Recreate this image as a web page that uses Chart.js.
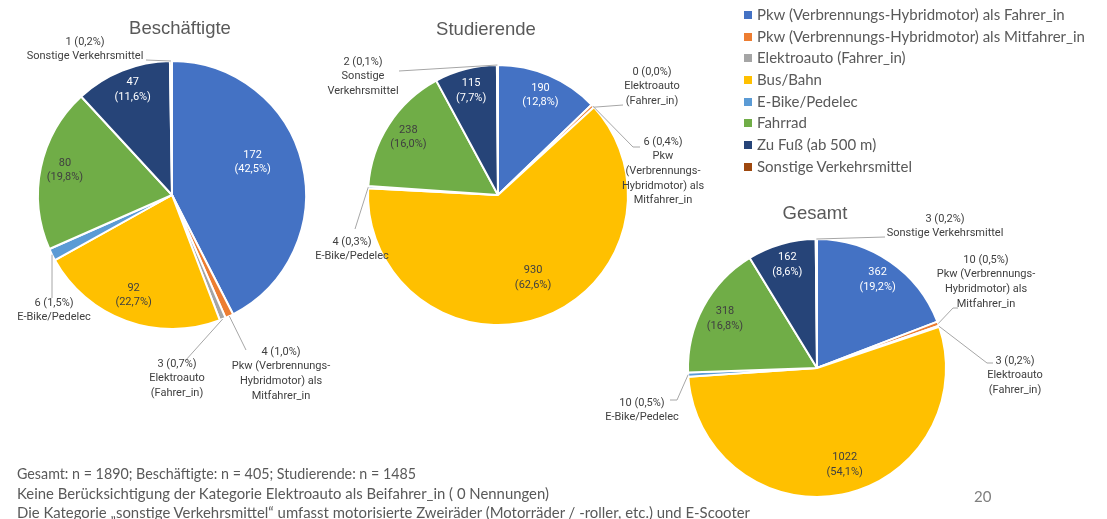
<!DOCTYPE html>
<html lang="de">
<head>
<meta charset="utf-8">
<script src="https://cdn.jsdelivr.net/npm/chart.js@4/dist/chart.umd.min.js"></script>
<style>
  body { margin: 0; background: #fff; width: 1107px; height: 519px; overflow: hidden; position: relative; }
  canvas { position: absolute; left: 0; top: 0; }
  .title { position: absolute; font: 18.5px "Liberation Sans", Arial, sans-serif; color: #595959; transform: translate(-50%, -50%); white-space: nowrap; }
  #legend { position: absolute; left: 744px; top: 4px; font: 15px Lato, sans-serif; color: #595959; }
  #legend div { height: 21.7px; line-height: 21.7px; white-space: nowrap; }
  #legend span { display: inline-block; width: 8px; height: 8px; margin-right: 5px; vertical-align: 1px; }
  .note { position: absolute; left: 17px; font: 15px Lato, sans-serif; color: #595959; white-space: nowrap; transform-origin: 0 50%; }
  #page { position: absolute; left: 974px; top: 487px; font: 15px Lato, sans-serif; color: #7f7f7f; }
</style>
</head>
<body>
<canvas id="pie-besch" width="1107" height="519"></canvas>
<canvas id="pie-stud" width="1107" height="519"></canvas>
<canvas id="pie-ges" width="1107" height="519"></canvas>
<div class="title" style="left:180px;top:28px">Beschäftigte</div>
<div class="title" style="left:486px;top:29px">Studierende</div>
<div class="title" style="left:815px;top:213px">Gesamt</div>
<div id="legend"></div>
<div class="note" style="top:464px" data-w="399">Gesamt: n = 1890; Beschäftigte: n = 405; Studierende: n = 1485</div>
<div class="note" style="top:484px" data-w="532">Keine Berücksichtigung der Kategorie Elektroauto als Beifahrer_in ( 0 Nennungen)</div>
<div class="note" style="top:503px" data-w="733">Die Kategorie „sonstige Verkehrsmittel“ umfasst motorisierte Zweiräder (Motorräder / -roller, etc.) und E-Scooter</div>
<div id="page">20</div>
<script>
const categories = [
  "Pkw (Verbrennungs-Hybridmotor) als Fahrer_in",
  "Pkw (Verbrennungs-Hybridmotor) als Mitfahrer_in",
  "Elektroauto (Fahrer_in)",
  "Bus/Bahn",
  "E-Bike/Pedelec",
  "Fahrrad",
  "Zu Fuß (ab 500 m)",
  "Sonstige Verkehrsmittel",
];
const colors = ["#4472C4", "#ED7D31", "#A5A5A5", "#FFC000", "#5B9BD5", "#70AD47", "#264478", "#9E480E"];

const beschaeftigte = [172, 4, 3, 92, 6, 80, 47, 1];
const studierende = [190, 6, 0, 930, 4, 238, 115, 2];
const gesamt = [362, 10, 3, 1022, 10, 318, 162, 3];

// inside label colour per category
const insideColors = ["#ffffff", "#404040", "#404040", "#404040", "#404040", "#404040", "#ffffff", "#404040"];

// legend
const legendDiv = document.getElementById("legend");
legendDiv.innerHTML = categories
  .map((c, i) => `<div><span style="background:${colors[i]}"></span>${c}</div>`)
  .join("");

// footnotes squeezed to the condensed width of the original
document.querySelectorAll(".note").forEach((el) => {
  const w = el.getBoundingClientRect().width;
  el.style.transform = `scaleX(${Number(el.dataset.w) / w})`;
});

// label layout: inside = {index: [angle from top (deg) or null, radius fraction]}
// outside = name lines + text anchor + leader elbow points
const pies = [
  {
    id: "pie-besch", data: beschaeftigte, cx: 172, cy: 195, r: 134,
    inside: { 0: [67.8, 0.65], 3: [201, 0.8], 5: [283, 0.82], 6: [339.6, 0.84] },
    outside: [
      { i: 7, lines: ["Sonstige Verkehrsmittel"], x: 85, y: 42, path: [[146, 60]] },
      { i: 4, lines: ["E-Bike/Pedelec"], x: 54, y: 303, path: [[52, 298]] },
      { i: 2, lines: ["Elektroauto", "(Fahrer_in)"], x: 177, y: 364, path: [[185, 361]] },
      { i: 1, lines: ["Pkw (Verbrennungs-", "Hybridmotor) als", "Mitfahrer_in"], x: 281, y: 352, path: [[246, 350]] },
    ],
  },
  {
    id: "pie-stud", data: studierende, cx: 498, cy: 195, r: 130,
    inside: { 0: [null, 0.835], 3: [157, 0.69], 5: [null, 0.82], 6: [null, 0.83] },
    outside: [
      { i: 7, lines: ["Sonstige", "Verkehrsmittel"], x: 363, y: 62, path: [[399, 71]] },
      { i: 2, lines: ["Elektroauto", "(Fahrer_in)"], x: 652, y: 72, path: [[623, 105]] },
      { i: 1, lines: ["Pkw", "(Verbrennungs-", "Hybridmotor) als", "Mitfahrer_in"], x: 663, y: 142, path: [[633, 147], [640, 147]] },
      { i: 4, lines: ["E-Bike/Pedelec"], x: 352, y: 242, path: [[355, 229]] },
    ],
  },
  {
    id: "pie-ges", data: gesamt, cx: 817, cy: 368, r: 129,
    inside: { 0: [null, 0.83], 3: [164, 0.78], 5: [null, 0.81], 6: [null, 0.835] },
    outside: [
      { i: 7, lines: ["Sonstige Verkehrsmittel"], x: 945, y: 219, path: [[885, 237]] },
      { i: 1, lines: ["Pkw (Verbrennungs-", "Hybridmotor) als", "Mitfahrer_in"], x: 986, y: 260, path: [[953, 308], [958, 308]] },
      { i: 2, lines: ["Elektroauto", "(Fahrer_in)"], x: 1015, y: 361, path: [[987, 363], [993, 363]] },
      { i: 4, lines: ["E-Bike/Pedelec"], x: 642, y: 403, path: [[677, 400], [670, 400]] },
    ],
  },
];

function makeLabelPlugin(pie) {
  return {
    id: "pieLabels",
    afterDatasetsDraw(chart) {
      const ctx = chart.ctx;
      const arcs = chart.getDatasetMeta(0).data;
      const values = chart.data.datasets[0].data;
      const total = values.reduce((a, b) => a + b, 0);
      const valueText = (v) => `${v} (${((v / total) * 100).toFixed(1).replace(".", ",")}%)`;
      const lh = 14.6;

      ctx.save();
      ctx.font = "11px Roboto, sans-serif";
      ctx.textAlign = "center";
      ctx.textBaseline = "middle";

      // inside labels
      Object.entries(pie.inside).forEach(([key, spec]) => {
        const i = Number(key);
        const arc = arcs[i];
        const ang = spec[0] === null ? (arc.startAngle + arc.endAngle) / 2 : ((spec[0] - 90) * Math.PI) / 180;
        const x = arc.x + Math.cos(ang) * arc.outerRadius * spec[1];
        const y = arc.y + Math.sin(ang) * arc.outerRadius * spec[1];
        ctx.fillStyle = insideColors[i];
        ctx.fillText(String(values[i]), x, y - lh / 2);
        ctx.fillText(valueText(values[i]).split(" ")[1], x, y + lh / 2);
      });

      // outside labels with leader lines
      pie.outside.forEach((o) => {
        const arc = arcs[o.i];
        const mid = (arc.startAngle + arc.endAngle) / 2;
        ctx.strokeStyle = "#a6a6a6";
        ctx.lineWidth = 1;
        ctx.beginPath();
        ctx.moveTo(arc.x + Math.cos(mid) * arc.outerRadius, arc.y + Math.sin(mid) * arc.outerRadius);
        o.path.forEach(([px, py]) => ctx.lineTo(px, py));
        ctx.stroke();

        ctx.fillStyle = "#404040";
        [valueText(values[o.i]), ...o.lines].forEach((t, k) => ctx.fillText(t, o.x, o.y + k * lh));
      });
      ctx.restore();
    },
  };
}

pies.forEach((pie) => {
  const ctx = document.getElementById(pie.id).getContext("2d");
  new Chart(ctx, {
    type: "pie",
    data: {
      labels: categories,
      datasets: [{
        data: pie.data,
        backgroundColor: colors,
        borderColor: "#ffffff",
        borderWidth: 2,
      }],
    },
    options: {
      responsive: false,
      animation: false,
      radius: pie.r,
      layout: {
        padding: { left: pie.cx - pie.r, right: 1107 - pie.cx - pie.r, top: pie.cy - pie.r, bottom: 519 - pie.cy - pie.r },
      },
      plugins: { legend: { display: false }, tooltip: { enabled: false } },
    },
    plugins: [makeLabelPlugin(pie)],
  });
});
</script>
</body>
</html>
